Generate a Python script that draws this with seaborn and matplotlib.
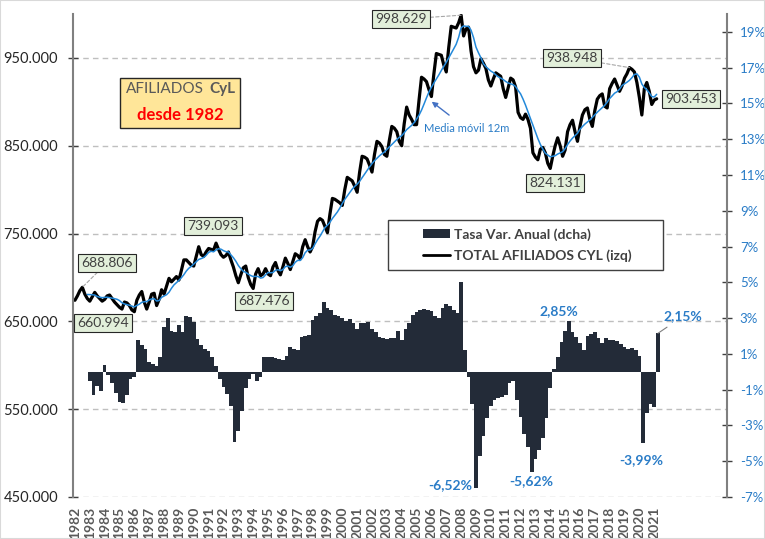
"""Afiliados a la Seguridad Social en Castilla y Leon desde 1982."""

import numpy as np
import pandas as pd
import matplotlib.pyplot as plt
from matplotlib.lines import Line2D
from matplotlib.patches import Patch, Rectangle
import matplotlib.ticker as mticker
import seaborn as sns

# ---------------------------------------------------------------------------
# datos leidos del grafico
# total afiliados (miles), un dato cada dos meses (ene, mar, may, jul, sep, nov)
inicio_linea = 1982
afiliados_miles = [
    674, 679, 685, 688.806, 681, 676,        # 1982
    673, 678, 683, 679, 676, 673,            # 1983
    675, 679, 680, 676, 672, 669,            # 1984
    666, 664, 672, 671, 668, 663,            # 1985
    660.994, 674, 680, 684, 672, 664,        # 1986
    672, 681, 682, 668, 675, 686,            # 1987
    681, 690, 699, 695, 698, 701,            # 1988
    697, 708, 720, 720, 717, 714,            # 1989
    713, 724, 735, 726, 724, 729,            # 1990
    733, 732, 731, 739.093, 732, 726,        # 1991
    723, 725, 729, 720, 712, 702,            # 1992
    694, 703, 711, 713, 700, 692,            # 1993
    687.476, 704, 710, 702, 704, 710,        # 1994
    704, 702, 712, 717, 708, 703,            # 1995
    712, 722, 716, 709, 718, 727,            # 1996
    725, 721, 735, 743, 735, 729,            # 1997
    735, 752, 764, 767, 765, 758,            # 1998
    751, 772, 790, 789, 787, 785,            # 1999
    782, 800, 814, 812, 810, 804,            # 2000
    797, 820, 838, 837, 835, 828,            # 2001
    820, 840, 855, 853, 849, 840,            # 2002
    838, 856, 872, 870, 866, 855,            # 2003
    850, 875, 894, 885, 880, 874,            # 2004
    874, 902, 928, 926, 923, 914,            # 2005
    906, 932, 955, 954, 953, 942,            # 2006
    934, 962, 986, 985, 984, 990,            # 2007
    998.629, 975, 983, 985, 958, 940,        # 2008
    933, 936, 949, 944, 938, 925,            # 2009
    918, 926, 933, 931, 929, 915,            # 2010
    905, 916, 927, 925, 917, 888,            # 2011
    882, 880, 886, 880, 870, 842,            # 2012
    837, 834, 846, 848, 842, 830,            # 2013
    824.131, 838, 850, 859, 850, 838,        # 2014
    845, 866, 874, 879, 866, 855,            # 2015
    872, 885, 891, 893, 880, 872,            # 2016
    890, 903, 907, 909, 895, 893,            # 2017
    915, 921, 926, 919, 912, 918,            # 2018
    927, 932, 938.948, 937, 934, 922,        # 2019
    905, 885, 915, 922, 912, 897,            # 2020
    902, 903.453,                            # 2021
]

# tasa de variacion anual (%), un dato por trimestre (ene, abr, jul, oct)
inicio_barras = 1983
tasa_anual = [
    -0.5, -1.3, -0.8, -1.1,      # 1983
    0.4, -0.2, -0.6, -1.2,       # 1984
    -1.7, -1.75, -1.3, -0.4,     # 1985
    -0.3, 1.8, 1.5, 1.3,         # 1986
    0.55, 0.45, 0.3, 0.8,        # 1987
    2.5, 3.0, 2.3, 2.2,          # 1988
    2.6, 2.2, 3.1, 3.05,         # 1989
    2.8, 1.85, 1.5, 1.25,        # 1990
    1.15, 0.8, 0.3, -0.4,        # 1991
    -0.85, -1.25, -1.9, -3.9,    # 1992
    -3.3, -2.2, -0.9, -0.4,      # 1993
    -0.1, -0.5, -0.3, 0.8,       # 1994
    0.85, 0.8, 0.75, 0.7,        # 1995
    0.65, 0.9, 1.4, 1.25,        # 1996
    1.2, 1.95, 2.0, 2.05,        # 1997
    2.9, 3.1, 3.3, 3.9,          # 1998
    3.55, 3.45, 3.2, 3.1,        # 1999
    3.0, 2.85, 2.95, 2.7,        # 2000
    2.4, 2.7, 2.75, 2.8,         # 2001
    2.4, 2.2, 1.95, 1.9,         # 2002
    1.85, 1.9, 1.9, 2.3,         # 2003
    1.8, 2.4, 2.75, 3.2,         # 2004
    3.35, 3.45, 3.5, 3.45,       # 2005
    3.4, 3.1, 3.0, 3.55,         # 2006
    3.8, 3.7, 3.45, 3.3,         # 2007
    5.0, 1.2, -0.3, -1.8,        # 2008
    -6.52, -4.7, -3.6, -2.6,     # 2009
    -1.9, -1.6, -1.45, -1.4,     # 2010
    -1.3, -0.6, -0.5, -1.55,     # 2011
    -2.5, -3.5, -4.2, -5.62,     # 2012
    -4.9, -4.4, -3.7, -2.6,      # 2013
    -0.9, 0.15, 0.8, 1.65,       # 2014
    2.3, 2.85, 2.2, 1.95,        # 2015
    1.6, 1.2, 2.0, 2.1,          # 2016
    2.2, 1.9, 1.6, 1.9,          # 2017
    1.8, 1.75, 1.7, 1.55,        # 2018
    1.4, 1.3, 1.35, 1.2,         # 2019
    0.9, -3.99, -2.3, -1.8,      # 2020
    -1.95, 2.15,                 # 2021
]

# valores destacados en el grafico
afiliados_destacados = [998.629, 938.948, 903.453, 824.131,
                        739.093, 688.806, 687.476, 660.994]
tasas_destacadas = [2.85, 2.15, -6.52, -5.62, -3.99]

# ---------------------------------------------------------------------------
# posiciones de los textos (fecha, valor) -- solo maquetacion
pos_etiquetas = {
    998.629: (2003.95, 994000, True),
    938.948: (2015.47, 950000, True),
    903.453: (2023.48, 903300, False),
    824.131: (2014.32, 807600, False),
    739.093: (1991.29, 758700, False),
    688.806: (1984.15, 716500, True),
    687.476: (1994.73, 673200, False),
    660.994: (1983.89, 648200, False),
}
pos_tasas = {
    2.85: (2014.6, 3.38),
    2.15: (2022.94, 3.1),
    -6.52: (2007.25, -6.34),
    -5.62: (2012.75, -6.1),
    -3.99: (2020.16, -4.93),
}

COLOR_BARRA = '#232b38'
AZUL = '#2a7cc7'
AZUL_MEDIA = '#2389da'
GRIS = '#404040'

fechas_linea = inicio_linea + np.arange(len(afiliados_miles)) / 6
afiliados = np.array(afiliados_miles) * 1000
fechas_barras = inicio_barras + np.arange(len(tasa_anual)) / 4

df_linea = pd.DataFrame({'fecha': fechas_linea, 'afiliados': afiliados})
# media movil de 12 meses = 6 datos bimestrales
df_linea['media_12m'] = df_linea['afiliados'].rolling(6).mean()
df_barras = pd.DataFrame({'fecha': fechas_barras, 'tasa': tasa_anual})

sns.set_style('white')
plt.rcParams['font.family'] = ['Lato', 'DejaVu Sans']

fig = plt.figure(figsize=(7.65, 5.39), dpi=100)
ax = fig.add_axes([73 / 765, 42 / 539, 654 / 765, 483 / 539])
ax2 = ax.twinx()

sns.barplot(data=df_barras, x='fecha', y='tasa', native_scale=True, width=1,
            color=COLOR_BARRA, saturation=1, linewidth=0, errorbar=None, ax=ax2)
sns.lineplot(data=df_linea, x='fecha', y='afiliados', color='black', lw=2.3,
             ax=ax)
sns.lineplot(data=df_linea, x='fecha', y='media_12m', color=AZUL_MEDIA, lw=1.1,
             ax=ax)

# ejes
ax.set_xlim(1981.87, 2025.9)
ax.set_ylim(450000, 1000000)
ax2.set_ylim(-7, 20)
ax.set_yticks(np.arange(450000, 950001, 100000))
ax2.set_yticks(np.arange(-7, 20, 2))
ax.yaxis.set_major_formatter(
    mticker.FuncFormatter(lambda v, _: f'{v:,.0f}'.replace(',', '.')))
ax2.yaxis.set_major_formatter(mticker.FuncFormatter(lambda v, _: f'{v:.0f}%'))
ax.set_xticks(np.arange(1982, 2022))
ax.set_xticklabels([str(a) for a in range(1982, 2022)], rotation=90,
                   fontweight='bold', color='#595959', fontsize=10)
ax.set_xlabel('')
ax.set_ylabel('')
ax2.set_xlabel('')
ax2.set_ylabel('')

ax.yaxis.grid(True, ls=(0, (4, 3)), color='#bfbfbf', lw=1)
ax.xaxis.grid(False)
ax2.grid(False)

for s in ['top', 'bottom', 'right']:
    ax.spines[s].set_visible(False)
for s in ['top', 'bottom', 'left']:
    ax2.spines[s].set_visible(False)
ax.spines['left'].set_color('#808080')
ax.spines['left'].set_linewidth(1.5)
ax2.spines['right'].set_color('#808080')
ax2.spines['right'].set_linewidth(1.5)

ax.tick_params(axis='y', direction='inout', length=6.5, width=1, color=GRIS,
               labelsize=10.5, labelcolor='#262626', pad=7.5)
ax2.tick_params(axis='y', direction='inout', length=6.5, width=1, color=GRIS,
                labelsize=9.5, labelcolor=AZUL, pad=6)
ax.tick_params(axis='x', length=0, pad=7)

# etiquetas de afiliados
for valor in afiliados_destacados:
    i = afiliados_miles.index(valor)
    xt, yt, guia = pos_etiquetas[valor]
    texto = f'{valor * 1000:,.0f}'.replace(',', '.')
    ax.annotate(texto, xy=(fechas_linea[i], afiliados[i]), xytext=(xt, yt),
                ha='center', va='center', fontsize=10, color=GRIS,
                annotation_clip=False, zorder=6,
                bbox=dict(boxstyle='square,pad=0.22', fc='#e2efda',
                          ec='#262626', lw=0.8),
                arrowprops=dict(arrowstyle='-', ls=(0, (3, 2)), color='#a6a6a6',
                                lw=0.8, shrinkA=0, shrinkB=0) if guia else None)

# etiquetas de tasa
for tasa in tasas_destacadas:
    xt, yt = pos_tasas[tasa]
    texto = f'{tasa:.2f}%'.replace('.', ',')
    if tasa == 2.15:
        i = tasa_anual.index(tasa)
        ax2.annotate(texto, xy=(fechas_barras[i], tasa), xytext=(xt, yt),
                     ha='center', va='center', fontsize=10, fontweight='bold',
                     color=AZUL, annotation_clip=False,
                     arrowprops=dict(arrowstyle='-', color='#7f7f7f', lw=0.8,
                                     shrinkA=2, shrinkB=0))
    else:
        ax2.text(xt, yt, texto, ha='center', va='center', fontsize=10,
                 fontweight='bold', color=AZUL)

# media movil
ax.annotate('Media móvil 12m', xy=(2006.02, 900200), xytext=(2008.4, 869100),
            ha='center', va='center', fontsize=8, color=AZUL,
            arrowprops=dict(arrowstyle='-|>', color='#4472c4', lw=1,
                            mutation_scale=8, shrinkA=6, shrinkB=0))

# cuadro de titulo
ax2.add_patch(Rectangle((0.0719, 0.764), 0.1835, 0.1035, transform=ax2.transAxes,
                        fc='#ffe699', ec='#262626', lw=1, zorder=5))
ax2.text(0.2003, 0.8447, 'AFILIADOS', transform=ax2.transAxes, ha='right',
         va='center', fontsize=11, color='#595959', zorder=6)
ax2.text(0.2080, 0.8447, 'CyL', transform=ax2.transAxes, ha='left',
         va='center', fontsize=11, color='#595959', fontweight='bold', zorder=6)
ax2.text(0.1636, 0.7909, 'desde 1982', transform=ax2.transAxes, ha='center',
         va='center', fontsize=12, color='#ff0000', fontweight='bold', zorder=6)

# leyenda
ax2.add_patch(Rectangle((0.4817, 0.470), 0.4205, 0.1035, transform=ax2.transAxes,
                        fc='white', ec=GRIS, lw=1, zorder=5))
handles = [Patch(facecolor=COLOR_BARRA, edgecolor='none'),
           Line2D([], [], color='black', lw=2)]
leg = ax2.legend(handles, ['Tasa Var. Anual (dcha)', 'TOTAL AFILIADOS CYL (izq)'],
                 loc='center left', bbox_to_anchor=(0.535, 0.5217),
                 frameon=False, borderaxespad=0, borderpad=0,
                 prop={'weight': 'bold', 'size': 10}, handlelength=1.95,
                 handletextpad=0.3, labelspacing=0.65)
leg.set_zorder(7)
for t in leg.get_texts():
    t.set_color(GRIS)

fig.patches.append(Rectangle((0, 0), 1, 1, transform=fig.transFigure,
                             fill=False, ec='#d9d9d9', lw=1.5))

fig.savefig('out.png', dpi=100)
